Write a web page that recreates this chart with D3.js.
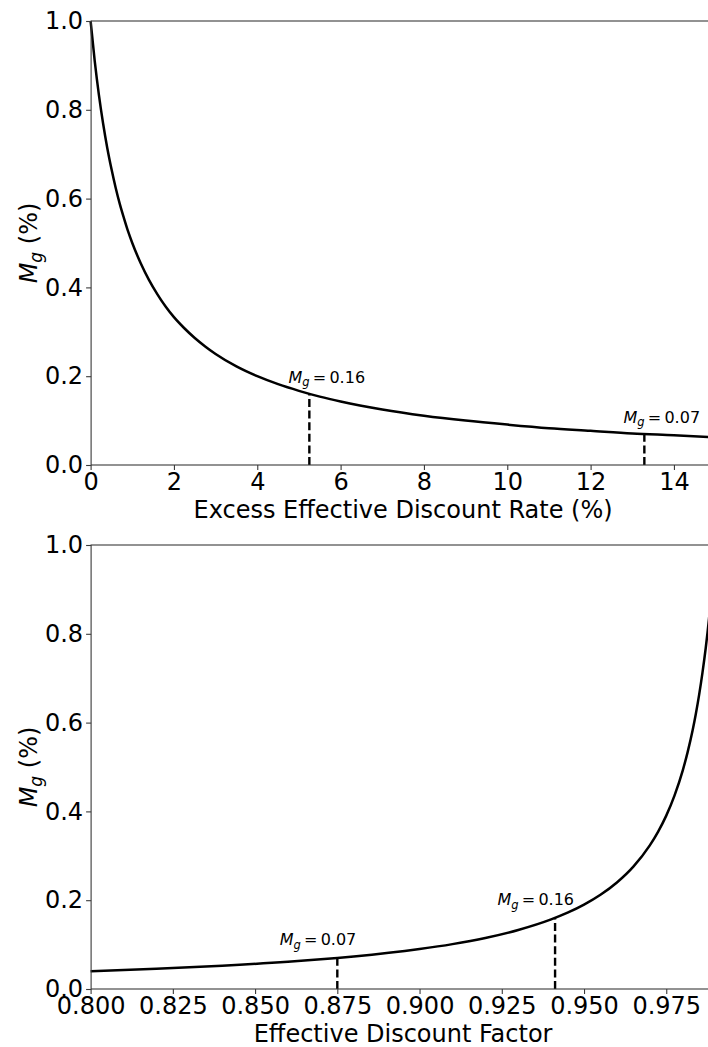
<!DOCTYPE html>
<html>
<head>
<meta charset="utf-8">
<script src="https://cdn.jsdelivr.net/npm/d3@7"></script>
<style>
  html, body { margin: 0; padding: 0; background: #fff; }
  svg { display: block; font-family: "DejaVu Sans", sans-serif; }
</style>
</head>
<body>
<svg id="fig" width="708" height="1047"></svg>
<script>
// Excess effective discount rate (%) and the resulting M_g
const rateX = [0, 0.1, 0.2, 0.3, 0.4, 0.5, 0.6, 0.7, 0.8, 0.9, 1.0, 1.2, 1.4, 1.6, 1.8, 2.0,
  2.25, 2.5, 2.75, 3.0, 3.5, 4.0, 4.5, 5.0, 5.5, 6.0, 7.0, 8.0, 9.0, 10, 11, 12, 13, 14, 15];
const rateM = [1.000, 0.909, 0.833, 0.769, 0.714, 0.667, 0.625, 0.588, 0.556, 0.526, 0.500,
  0.455, 0.417, 0.385, 0.357, 0.333, 0.308, 0.286, 0.267, 0.250, 0.222, 0.200, 0.182,
  0.167, 0.154, 0.143, 0.125, 0.111, 0.100, 0.091, 0.083, 0.077, 0.071, 0.067, 0.0625];

// Effective discount factor and the resulting M_g
const factorX = [0.80, 0.82, 0.84, 0.86, 0.875, 0.88, 0.90, 0.91, 0.92, 0.93, 0.94, 0.945,
  0.95, 0.955, 0.96, 0.965, 0.97, 0.9725, 0.975, 0.9775, 0.98, 0.9815, 0.983, 0.984,
  0.985, 0.986, 0.987, 0.988, 0.989, 0.99];
const factorM = [0.0400, 0.0456, 0.0525, 0.0614, 0.0700, 0.0733, 0.0900, 0.1011, 0.1150,
  0.1329, 0.1567, 0.1718, 0.1900, 0.2122, 0.2400, 0.2757, 0.3235, 0.3540, 0.3905, 0.4355,
  0.4920, 0.5335, 0.5820, 0.6200, 0.6630, 0.7120, 0.7680, 0.8340, 0.9120, 1.0000];

// Marked M_g levels
const markLabels = ["0.16", "0.07"];
const markM = [0.16, 0.07];
const markRate = [5.25, 13.29];
const markFactor = [0.9412, 0.875];

// Tick values
const yTicks = [0, 0.2, 0.4, 0.6, 0.8, 1.0];
const rateTicks = [0, 2, 4, 6, 8, 10, 12, 14];
const factorTicks = [0.800, 0.825, 0.850, 0.875, 0.900, 0.925, 0.950, 0.975];

const svg = d3.select("#fig");
const FS = 24;
const left = 90.6, right = 715.6;

function panel(cfg) {
  const x = d3.scaleLinear().domain(cfg.xDomain).range([left, right]);
  const y = d3.scaleLinear().domain([0, 1]).range([cfg.bottom, cfg.top]);
  const g = svg.append("g");

  // curve
  const pts = cfg.xs.map((v, i) => [v, cfg.ms[i]]);
  g.append("path")
    .datum(pts)
    .attr("fill", "none")
    .attr("stroke", "#000")
    .attr("stroke-width", 2.5)
    .attr("d", d3.line().x(d => x(d[0])).y(d => y(d[1])).curve(d3.curveMonotoneX));

  // dashed markers with labels
  cfg.markX.forEach((mx, i) => {
    g.append("line")
      .attr("x1", x(mx)).attr("x2", x(mx))
      .attr("y1", y(0)).attr("y2", y(markM[i]))
      .attr("stroke", "#000").attr("stroke-width", 2.4)
      .attr("stroke-dasharray", "8,3.6");
    const t = g.append("text")
      .attr("x", x(mx + cfg.labelDx))
      .attr("y", y(markM[i] + cfg.labelDy))
      .attr("font-size", 16);
    t.append("tspan").attr("font-style", "italic").text("M");
    t.append("tspan").attr("font-size", 11.5).attr("font-style", "italic").attr("dy", 3.5).text("g");
    t.append("tspan").attr("dy", -3.5).text("\u2009=\u2009" + markLabels[i]);
  });

  // frame
  g.append("rect")
    .attr("x", left + 0.5).attr("y", cfg.top)
    .attr("width", right - left).attr("height", cfg.bottom - cfg.top)
    .attr("fill", "none").attr("stroke", "#3a3a3a").attr("stroke-width", 1.1);

  // axes
  const xAxis = g.append("g")
    .attr("transform", `translate(0,${cfg.bottom})`)
    .call(d3.axisBottom(x).tickValues(cfg.xTicks).tickFormat(cfg.xFmt)
      .tickSize(5).tickPadding(2).tickSizeOuter(0));
  xAxis.select(".domain").remove();
  xAxis.selectAll("line").attr("stroke", "#3a3a3a").attr("stroke-width", 1.1);
  xAxis.selectAll("text").attr("font-size", FS).attr("fill", "#000")
    .attr("font-family", "DejaVu Sans").attr("dy", null).attr("y", 24.5);

  const yAxis = g.append("g")
    .attr("transform", `translate(${left + 0.5},0)`)
    .call(d3.axisLeft(y).tickValues(yTicks).tickFormat(d3.format(".1f"))
      .tickSize(5).tickPadding(3).tickSizeOuter(0));
  yAxis.select(".domain").remove();
  yAxis.selectAll("line").attr("stroke", "#3a3a3a").attr("stroke-width", 1.1);
  yAxis.selectAll("text").attr("font-size", FS).attr("fill", "#000")
    .attr("font-family", "DejaVu Sans");

  // axis titles
  svg.append("text")
    .attr("x", (left + right) / 2).attr("y", cfg.bottom + 53)
    .attr("text-anchor", "middle").attr("font-size", FS)
    .text(cfg.xTitle);

  const yl = svg.append("text")
    .attr("transform", `translate(37,${(cfg.top + cfg.bottom) / 2}) rotate(-90)`)
    .attr("text-anchor", "middle").attr("font-size", FS);
  yl.append("tspan").attr("font-style", "italic").text("M");
  yl.append("tspan").attr("font-size", 17).attr("font-style", "italic").attr("dy", 5).text("g");
  yl.append("tspan").attr("dy", -5).text(" (%)");
}

panel({
  top: 21, bottom: 465,
  xDomain: [0, 15],
  xs: rateX, ms: rateM,
  markX: markRate, labelDx: -0.5, labelDy: 0.025,
  xTicks: rateTicks, xFmt: d3.format("d"),
  xTitle: "Excess Effective Discount Rate (%)"
});

panel({
  top: 545, bottom: 989,
  xDomain: [0.8, 0.99],
  xs: factorX, ms: factorM,
  markX: markFactor, labelDx: -0.0175, labelDy: 0.029,
  xTicks: factorTicks, xFmt: d3.format(".3f"),
  xTitle: "Effective Discount Factor"
});
</script>
</body>
</html>
